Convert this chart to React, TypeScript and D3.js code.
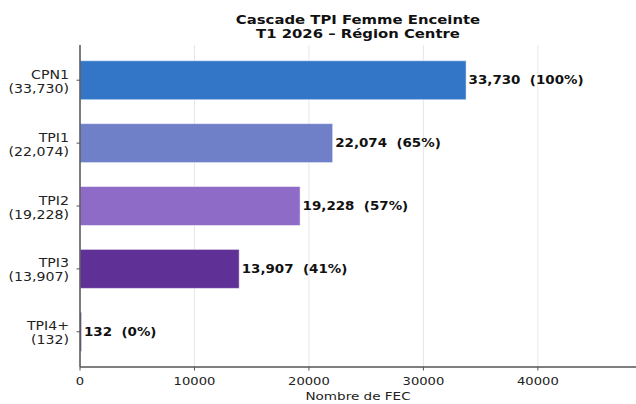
import React from "react";
import * as d3 from "d3";

const categories = ["CPN1", "TPI1", "TPI2", "TPI3", "TPI4+"];
const values = [33730, 22074, 19228, 13907, 132];
const colors = ["#3376c7", "#6f80c9", "#8f6bc8", "#5f3197", "#4a2a7a"];
const xTicks = [0, 10000, 20000, 30000, 40000];
const title = ["Cascade TPI Femme Enceinte", "T1 2026 \u2013 Région Centre"];
const xLabel = "Nombre de FEC";

const W = 636, H = 404;
const left = 80, right = 636, top = 45, bottom = 367;
const font = "DejaVu Sans, sans-serif";
const SX = 1.2;

function T({ x, y, sx = SX, anchor = "start", size, bold = false, fill = "#222", children, dy }: any) {
  return (
    <text transform={`translate(${x},${y}) scale(${sx},1)`} textAnchor={anchor} fontFamily={font}
      fontSize={size} fontWeight={bold ? "bold" : "normal"} fill={fill} dy={dy}
      style={{ whiteSpace: "pre" }}>
      {children}
    </text>
  );
}

export default function App() {
  const fmt = d3.format(",");
  const x = d3.scaleLinear().domain([0, values[0] * 1.44]).range([left, right]);
  const y = d3.scaleLinear().domain([-0.56, categories.length - 1 + 0.56]).range([top, bottom]);
  const bh = (y(1) - y(0)) * 0.62;
  return (
    <svg width={W} height={H} style={{ position: "absolute", left: 0, top: 0 }}>
      <rect width={W} height={H} fill="white" />
      {xTicks.map((t) => (
        <line key={t} x1={x(t)} x2={x(t)} y1={top} y2={bottom} stroke="#e3e3e3" strokeWidth={0.9} />
      ))}
      {values.map((v, i) => (
        <rect key={i} x={x(0)} y={y(i) - bh / 2} width={x(v) - x(0)} height={bh}
          fill={colors[i]} stroke="#ffffff" strokeOpacity={0.5} strokeWidth={1} />
      ))}
      {values.map((v, i) => (
        <T key={i} x={x(v) + 2.5} y={y(i)} dy="0.36em" size={11.4} bold fill="#111" sx={1.18}>
          {`${fmt(v)}  (${Math.round((v / values[0]) * 100)}%)`}
        </T>
      ))}
      <line x1={left} x2={left} y1={top} y2={bottom} stroke="#555" strokeWidth={1.5} />
      <line x1={left} x2={right} y1={bottom} y2={bottom} stroke="#555" strokeWidth={1.5} />
      {xTicks.map((t) => (
        <g key={t}>
          <line x1={x(t)} x2={x(t)} y1={bottom} y2={bottom + 3.5} stroke="#555" />
          <T x={x(t)} y={bottom + 18} anchor="middle" size={10.5} sx={1.25}>{t}</T>
        </g>
      ))}
      {categories.map((c, i) => (
        <g key={c}>
          <line x1={left - 3.5} x2={left} y1={y(i)} y2={y(i)} stroke="#555" />
          <T x={left - 11} y={y(i) - 1.5} anchor="end" size={11.4} sx={1.24}>{c}</T>
          <T x={left - 11} y={y(i) + 12.5} anchor="end" size={11.4} sx={1.24}>{`(${fmt(values[i])})`}</T>
        </g>
      ))}
      <T x={(left + right) / 2} y={400} anchor="middle" size={11.3} sx={1.2}>{xLabel}</T>
      {title.map((t, i) => (
        <T key={i} x={(left + right) / 2} y={24 + i * 14} anchor="middle" size={12.8} bold fill="#111" sx={1.16}>{t}</T>
      ))}
    </svg>
  );
}
